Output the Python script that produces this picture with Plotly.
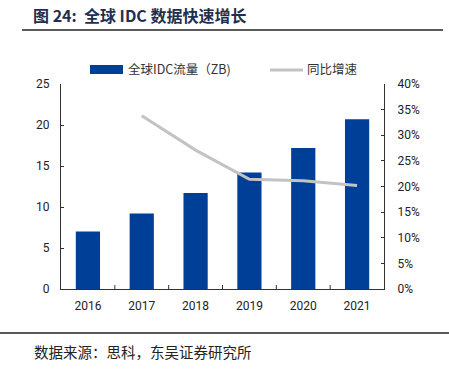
import plotly.graph_objects as go

years = ["2016", "2017", "2018", "2019", "2020", "2021"]
traffic_zb = [7.0, 9.2, 11.7, 14.2, 17.2, 20.7]
growth = [None, 0.338, 0.271, 0.214, 0.211, 0.202]

left_ticks = [0, 5, 10, 15, 20, 25]
right_ticks = [0, 0.05, 0.10, 0.15, 0.20, 0.25, 0.30, 0.35, 0.40]

bar_name = "全球IDC流量（ZB)"
line_name = "同比增速"

W, H = 449, 371
L, R, T, B = 61, 384, 84, 289
pw, ph = R - L, B - T

def px(x):
    return (x - L) / pw

def py(y):
    return (B - y) / ph

bar_color = "#003f98"
line_color = "#c3c3c3"
tick_font = dict(family="Liberation Sans Narrow, Roboto, Arial", size=12, color="#222222")
leg_font = dict(family="Noto Sans CJK SC", size=12.5, color="#333333")

fig = go.Figure()
fig.add_trace(go.Bar(
    x=years, y=traffic_zb, name=bar_name,
    marker=dict(color=bar_color, line=dict(width=0)),
    yaxis="y", showlegend=False,
))
fig.add_trace(go.Scatter(
    x=years, y=growth, name=line_name, mode="lines",
    line=dict(color=line_color, width=3),
    yaxis="y2", showlegend=False,
))

fig.update_layout(
    width=W, height=H,
    margin=dict(l=L, r=W - R, t=T, b=H - B),
    paper_bgcolor="white", plot_bgcolor="white",
    bargap=0.55,
    showlegend=False,
    xaxis=dict(type="category", showline=True, linecolor="#333333", linewidth=1,
               ticks="", showgrid=False, tickfont=tick_font, ticklabelstandoff=6),
    yaxis=dict(range=[0, 25], tickvals=left_ticks, showline=True, linecolor="#333333",
               linewidth=1, ticks="inside", ticklen=3, tickcolor="#333333",
               showgrid=False, zeroline=False, tickfont=tick_font, ticklabelstandoff=8),
    yaxis2=dict(range=[0, 0.4], tickvals=right_ticks, tickformat=".0%", overlaying="y",
                side="right", showline=True, linecolor="#333333", linewidth=1,
                ticks="inside", ticklen=3, tickcolor="#333333", showgrid=False,
                zeroline=False, tickfont=tick_font, ticklabelstandoff=10),
    shapes=[
        dict(type="line", xref="paper", yref="paper", x0=px(22), x1=px(443),
             y0=py(30), y1=py(30), line=dict(color="#222222", width=1.5)),
        dict(type="line", xref="paper", yref="paper", x0=px(0), x1=px(449),
             y0=py(333), y1=py(333), line=dict(color="#222222", width=1.5)),
        # legend keys
        dict(type="rect", xref="paper", yref="paper", x0=px(90), x1=px(123),
             y0=py(74), y1=py(65), fillcolor=bar_color, line=dict(width=0)),
        dict(type="line", xref="paper", yref="paper", x0=px(270), x1=px(303),
             y0=py(70), y1=py(70), line=dict(color=line_color, width=3)),
    ] + [
        dict(type="line", xref="paper", yref="paper", x0=px(L + pw * k / 6), x1=px(L + pw * k / 6),
             y0=0, y1=py(B - 4), line=dict(color="#333333", width=1))
        for k in range(1, 6)
    ],
    annotations=[
        dict(text="<b>图 24:  全球 IDC 数据快速增长</b>", xref="paper", yref="paper",
             x=px(31), y=py(15), xanchor="left", yanchor="middle", showarrow=False,
             font=dict(family="Noto Sans CJK SC", size=16, color="#1f2f4f")),
        dict(text="数据来源：思科，东吴证券研究所", xref="paper", yref="paper",
             x=px(32), y=py(351), xanchor="left", yanchor="middle", showarrow=False,
             font=dict(family="Noto Sans CJK SC", size=14.5, color="#222222")),
        dict(text=bar_name, xref="paper", yref="paper",
             x=px(126), y=py(69), xanchor="left", yanchor="middle", showarrow=False,
             font=leg_font),
        dict(text=line_name, xref="paper", yref="paper",
             x=px(305), y=py(69), xanchor="left", yanchor="middle", showarrow=False,
             font=leg_font),
    ],
)

fig.write_html("out.html", config={"displayModeBar": False},
               post_script="document.body.style.margin='0';")
